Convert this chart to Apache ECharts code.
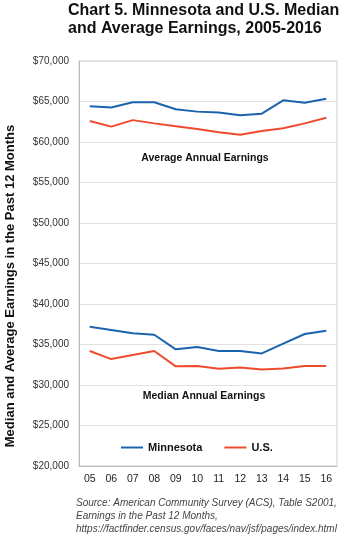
<!DOCTYPE html>
<html>
<head>
<meta charset="utf-8">
<script src="https://cdn.jsdelivr.net/npm/echarts@6/dist/echarts.min.js"></script>
<style>
  html, body { margin: 0; padding: 0; background: #fff; }
  #chart { width: 345px; height: 548px; }
</style>
</head>
<body>
<div id="chart"></div>
<script>
// Years shown along the x axis
const years = ['05', '06', '07', '08', '09', '10', '11', '12', '13', '14', '15', '16'];

// Average annual earnings
const mnAverage = [64400, 64250, 64900, 64900, 64050, 63750, 63650, 63300, 63500, 65150, 64850, 65350];
const usAverage = [62600, 61900, 62700, 62300, 61950, 61600, 61200, 60900, 61350, 61700, 62300, 63000];

// Median annual earnings
const mnMedian = [37200, 36800, 36400, 36200, 34400, 34700, 34200, 34200, 33900, 35100, 36300, 36700];
const usMedian = [34200, 33200, 33700, 34200, 32300, 32350, 32000, 32150, 31900, 32050, 32350, 32350];

const BLUE = '#1c63ad';
const RED = '#ee4a2e';
const FONT = '"Liberation Sans", Arial, Helvetica, sans-serif';

const chart = echarts.init(document.getElementById('chart'), null, { renderer: 'canvas' });

function lineSeries(name, data, color) {
  return {
    name: name,
    type: 'line',
    data: data,
    symbol: 'none',
    smooth: false,
    lineStyle: { color: color, width: 2 },
    itemStyle: { color: color },
    emphasis: { disabled: true }
  };
}

chart.setOption({
  animation: false,
  backgroundColor: '#fff',
  textStyle: { fontFamily: FONT },
  title: {
    text: 'Chart 5. Minnesota and U.S. Median\nand Average Earnings, 2005-2016',
    left: 68,
    top: 2,
    padding: 0,
    textStyle: { fontSize: 16, fontWeight: 'bold', color: '#111', lineHeight: 18, fontFamily: FONT }
  },
  grid: {
    left: 79, right: 8, top: 61, bottom: 82,
    show: true, borderColor: '#cfcfcf', borderWidth: 1
  },
  legend: {
    left: 116,
    top: 437,
    itemWidth: 22,
    itemHeight: 2,
    itemGap: 22,
    icon: 'rect',
    data: ['Minnesota', 'U.S.'],
    textStyle: { fontSize: 11, fontWeight: 'bold', color: '#111', fontFamily: FONT }
  },
  xAxis: {
    type: 'category',
    data: years,
    boundaryGap: true,
    axisLine: { show: true, lineStyle: { color: '#bdbdbd' } },
    axisTick: { show: false },
    axisLabel: { color: '#222', fontSize: 10.5, margin: 8, fontFamily: FONT }
  },
  yAxis: {
    type: 'value',
    min: 20000,
    max: 70000,
    interval: 5000,
    axisLine: { show: true, lineStyle: { color: '#bdbdbd' } },
    axisTick: { show: false },
    splitLine: { lineStyle: { color: '#e2e2e2', width: 1 } },
    axisLabel: {
      color: '#333', fontSize: 10, margin: 10, fontFamily: FONT,
      formatter: v => '$' + v.toLocaleString('en-US')
    }
  },
  graphic: [
    {
      type: 'text',
      x: 10, y: 286,
      rotation: Math.PI / 2,
      style: {
        text: 'Median and Average Earnings in the Past 12 Months',
        fontSize: 13, fontWeight: 'bold', fill: '#111', fontFamily: FONT,
        align: 'center', verticalAlign: 'middle'
      }
    },
    {
      type: 'text',
      x: 205, y: 158,
      style: {
        text: 'Average Annual Earnings',
        fontSize: 10.5, fontWeight: 'bold', fill: '#111', fontFamily: FONT,
        align: 'center', verticalAlign: 'middle'
      }
    },
    {
      type: 'text',
      x: 204, y: 396,
      style: {
        text: 'Median Annual Earnings',
        fontSize: 10.5, fontWeight: 'bold', fill: '#111', fontFamily: FONT,
        align: 'center', verticalAlign: 'middle'
      }
    },
    {
      type: 'text',
      x: 76, y: 497,
      style: {
        text: 'Source: American Community Survey (ACS), Table S2001,\nEarnings in the Past 12 Months,\nhttps://factfinder.census.gov/faces/nav/jsf/pages/index.html',
        fontSize: 10, fontStyle: 'italic', fill: '#444', fontFamily: FONT,
        lineHeight: 13, align: 'left', verticalAlign: 'top'
      }
    }
  ],
  series: [
    lineSeries('Minnesota', mnAverage, BLUE),
    lineSeries('U.S.', usAverage, RED),
    lineSeries('Minnesota', mnMedian, BLUE),
    lineSeries('U.S.', usMedian, RED)
  ]
});
</script>
</body>
</html>
